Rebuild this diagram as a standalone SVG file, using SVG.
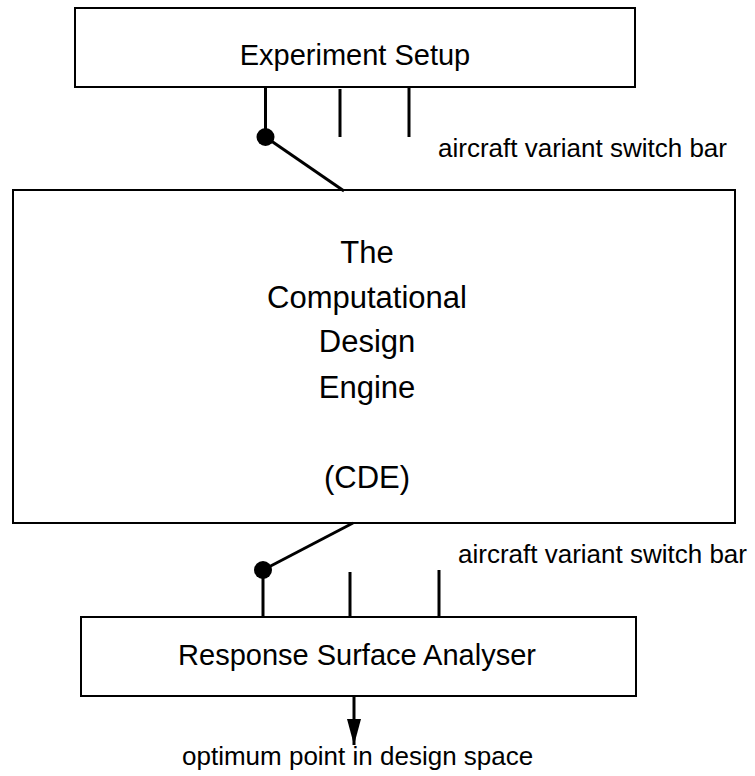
<svg xmlns="http://www.w3.org/2000/svg" width="755" height="776" viewBox="0 0 755 776">
<style>
.box{fill:#fff;stroke:#000;stroke-width:2}
.t{font-family:"Liberation Sans",Arial,sans-serif;fill:#000;text-anchor:middle}
.lbl{font-family:"Liberation Sans",Arial,sans-serif;fill:#000;font-size:26px}
.c{stroke:#000;stroke-width:3;fill:none}
</style>
<defs>
<marker id="ah" markerWidth="26" markerHeight="14" refX="26" refY="7" orient="auto" markerUnits="userSpaceOnUse" viewBox="0 0 26 14">
<path d="M0,0 L26,7 L0,14 Z" fill="#000"/>
</marker>
</defs>
<rect width="755" height="776" fill="#fff"/>
<g id="experiment-setup">
<rect class="box" x="75" y="8" width="560" height="79"/>
<text class="t" x="355" y="65" font-size="29">Experiment Setup</text>
</g>
<g id="cde">
<rect class="box" x="13" y="190" width="722" height="333"/>
<text class="t" x="367" y="263" font-size="31">The</text>
<text class="t" x="367" y="308" font-size="31">Computational</text>
<text class="t" x="367" y="352" font-size="31">Design</text>
<text class="t" x="367" y="398" font-size="31">Engine</text>
<text class="t" x="367" y="488" font-size="31">(CDE)</text>
</g>
<g id="response-surface-analyser">
<rect class="box" x="81" y="617" width="555" height="79"/>
<text class="t" x="357" y="665" font-size="29">Response Surface Analyser</text>
</g>
<g id="connectors">
<line class="c" x1="265.5" y1="88" x2="265.5" y2="137"/>
<line class="c" x1="340" y1="89" x2="340" y2="137"/>
<line class="c" x1="409" y1="88" x2="409" y2="137"/>
<line class="c" x1="265.5" y1="137" x2="344" y2="191"/>
<circle cx="265.5" cy="137" r="9" fill="#000"/>
<line class="c" x1="353" y1="523" x2="263" y2="570"/>
<circle cx="263" cy="570" r="9" fill="#000"/>
<line class="c" x1="263" y1="570" x2="263" y2="617"/>
<line class="c" x1="350" y1="572" x2="350" y2="617"/>
<line class="c" x1="439" y1="570" x2="439" y2="617"/>
<line class="c" x1="354" y1="697" x2="354" y2="745" marker-end="url(#ah)"/>
</g>
<g id="labels">
<text class="lbl" x="438" y="157">aircraft variant switch bar</text>
<text class="lbl" x="458" y="563">aircraft variant switch bar</text>
<text class="lbl" x="182" y="765">optimum point in design space</text>
</g>
</svg>
